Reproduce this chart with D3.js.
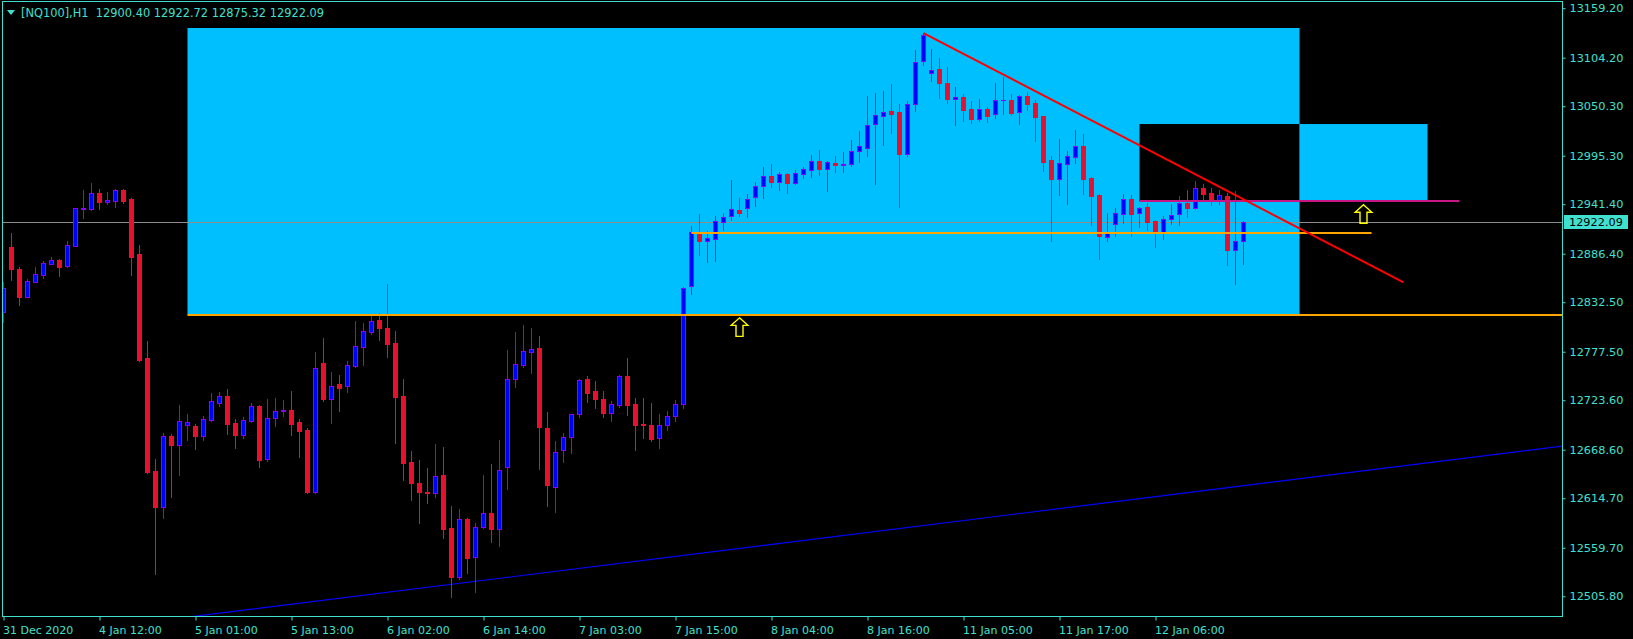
<!DOCTYPE html>
<html><head><meta charset="utf-8">
<script src="https://cdn.jsdelivr.net/npm/d3@7"></script>
<style>body{margin:0;background:#000;overflow:hidden}svg{display:block}</style>
</head><body>
<svg id="chart" width="1633" height="639"></svg>
<script>
// ---- data (H1 bars, index 0 = first visible bar) ----
const opens=[12822.0,12893.5,12869.0,12838.6,12855.3,12863.1,12875.3,12879.4,12872.7,12895.3,
12936.6,12935.7,12953.5,12944.2,12944.6,12957.2,12947.2,12885.7,12770.1,12644.9,
12604.5,12683.8,12674.2,12696.4,12695.3,12684.2,12702.0,12720.9,12727.9,12697.9,
12685.3,12700.2,12717.2,12658.7,12703.5,12711.6,12712.4,12699.0,12690.2,12621.3,
12764.6,12724.6,12741.3,12739.0,12762.0,12783.1,12799.8,12812.4,12803.5,12787.2,
12728.3,12654.6,12631.3,12621.6,12620.2,12640.2,12581.3,12527.6,12591.3,12549.1,
12582.4,12598.0,12580.2,12649.0,12746.8,12763.1,12777.6,12781.3,12692.8,12626.8,
12667.9,12682.4,12707.9,12746.8,12733.5,12724.6,12709.1,12717.9,12750.2,12719.1,
12696.8,12695.7,12681.3,12695.7,12706.0,12719.3,12850.8,12908.6,12900.9,12903.1,
12922.0,12927.9,12934.9,12936.8,12949.0,12961.2,12972.7,12966.4,12974.9,12965.3,
12975.3,12979.8,12989.0,12980.1,12987.2,12984.9,12985.7,13000.9,13004.2,13030.1,
13039.7,13044.9,13043.8,12997.5,13052.4,13100.9,13087.6,13091.3,13075.8,13058.0,
13060.2,13046.9,13036.5,13046.9,13041.3,13056.7,13056.9,13043.5,13061.7,13053.9,
13039.5,12990.2,12969.1,12986.5,12994.3,13006.1,12970.9,12951.7,12905.3,12919.1,
12930.2,12946.8,12931.3,12937.9,12922.8,12910.5,12924.6,12930.2,12943.1,12937.6,
12959.1,12953.5,12946.1,12950.5,12890.9,12900.40];
const highs=[12855.3,12909.0,12871.2,12857.9,12871.2,12877.9,12882.7,12880.5,12900.5,12937.2,
12957.2,12965.0,12958.3,12955.0,12957.9,12957.9,12947.9,12896.1,12789.4,12658.3,
12686.8,12686.0,12718.3,12708.3,12697.1,12706.1,12731.6,12732.8,12736.1,12702.4,
12705.0,12720.5,12718.7,12725.0,12726.5,12723.9,12733.9,12702.4,12692.4,12776.8,
12792.8,12754.6,12751.3,12767.2,12811.6,12809.4,12818.3,12820.2,12852.7,12800.5,
12746.8,12666.8,12657.2,12648.0,12675.0,12671.3,12606.1,12602.8,12592.8,12586.8,
12640.5,12652.8,12679.4,12779.4,12799.4,12807.2,12803.9,12795.0,12710.5,12678.3,
12686.8,12708.3,12747.6,12750.5,12745.0,12733.5,12722.4,12751.6,12770.5,12725.7,
12726.1,12720.5,12708.3,12712.0,12724.0,12849.7,12917.1,12930.5,12911.6,12928.3,
12931.6,12968.3,12948.3,12952.7,12965.7,12982.7,12986.0,12977.2,12976.0,12979.4,
12982.3,12996.1,13001.6,12989.4,12994.9,12999.4,13012.7,13022.7,13061.6,13064.9,
13067.2,13074.9,13052.7,13056.0,13112.8,13131.5,13113.9,13103.5,13093.5,13071.7,
13063.9,13056.1,13058.3,13049.1,13076.1,13082.8,13063.9,13062.4,13065.7,13056.9,
13039.5,12994.6,13013.9,13000.6,13024.3,13019.5,12972.0,12952.8,12931.3,12937.2,
12952.8,12951.3,12937.9,12942.8,12923.9,12928.3,12941.7,12950.5,12957.2,12967.2,
12963.9,12959.1,12957.2,12953.5,12956.1,12922.72];
const lows=[12810.9,12857.2,12829.4,12838.2,12854.9,12859.7,12875.0,12861.6,12872.0,12894.9,
12926.4,12935.3,12936.4,12942.0,12938.6,12943.1,12862.7,12767.5,12643.1,12530.5,
12593.1,12616.4,12640.9,12679.4,12669.4,12679.4,12700.5,12717.2,12686.1,12670.9,
12682.0,12699.8,12649.8,12656.1,12695.3,12706.4,12685.3,12660.9,12620.9,12620.2,
12722.4,12698.7,12712.0,12733.1,12760.9,12763.1,12796.8,12790.5,12771.6,12676.1,
12635.0,12612.8,12586.8,12609.8,12615.7,12570.9,12505.0,12525.3,12532.0,12510.9,
12582.0,12566.5,12562.0,12625.3,12738.7,12760.9,12754.2,12647.2,12606.5,12599.8,
12655.3,12665.4,12705.3,12722.0,12715.4,12705.3,12700.9,12716.5,12707.2,12668.7,
12681.6,12678.3,12670.9,12690.0,12700.0,12715.0,12842.0,12884.9,12877.5,12878.6,
12913.1,12924.2,12928.6,12927.5,12939.7,12948.6,12960.9,12957.2,12954.2,12964.2,
12970.5,12971.6,12973.8,12956.4,12977.2,12977.5,12984.2,12988.6,12995.3,12964.2,
13007.5,13020.9,12938.6,12995.3,13045.4,13096.1,13078.7,13059.8,13054.3,13029.8,
13034.3,13031.3,13034.3,13033.2,13037.6,13042.1,13040.6,13030.9,13046.5,13012.0,
12978.7,12900.9,12952.0,12941.7,12987.6,12952.8,12918.3,12880.6,12900.9,12906.5,
12920.9,12906.5,12916.5,12912.8,12894.2,12903.1,12919.4,12918.3,12927.2,12936.1,
12946.1,12940.5,12941.7,12873.9,12853.1,12875.32];
const closes=[12847.9,12869.0,12838.6,12855.7,12863.5,12875.7,12879.4,12871.6,12895.7,12936.8,
12937.0,12953.5,12944.2,12945.7,12956.8,12945.3,12883.1,12768.3,12644.2,12605.3,
12683.8,12674.2,12700.1,12699.0,12683.8,12702.4,12722.4,12727.9,12697.6,12685.3,
12701.3,12716.8,12657.6,12703.5,12711.3,12712.4,12697.6,12689.8,12621.6,12759.1,
12724.6,12739.0,12737.6,12762.4,12783.5,12800.2,12811.3,12804.2,12786.5,12727.6,
12653.5,12631.3,12621.3,12620.5,12639.8,12580.9,12527.6,12591.3,12548.7,12582.4,
12598.0,12580.9,12645.7,12746.8,12763.5,12778.0,12780.2,12693.5,12629.8,12665.7,
12682.4,12707.9,12746.1,12732.0,12724.6,12709.1,12719.1,12750.2,12718.7,12696.5,
12695.7,12680.9,12695.7,12706.0,12719.0,12847.9,12910.1,12900.9,12903.5,12922.7,
12926.8,12936.0,12932.0,12947.2,12961.2,12972.7,12966.4,12974.6,12965.3,12975.7,
12980.5,12989.0,12980.9,12988.3,12984.6,12985.7,13000.1,13006.0,13029.4,13040.5,
13043.5,13042.0,12997.5,13052.7,13099.1,13129.0,13090.2,13076.5,13058.0,13060.2,
13046.5,13036.5,13046.9,13039.8,13056.9,13057.1,13043.2,13061.3,13053.2,13038.7,
12988.7,12969.1,12986.9,12995.0,13005.7,12969.8,12950.9,12906.5,12909.1,12931.3,
12946.8,12930.9,12936.8,12922.0,12910.5,12924.6,12929.1,12943.1,12937.6,12959.1,
12953.1,12946.1,12951.3,12890.9,12900.2,12922.09];

const priceTicks=[13159.20,13104.20,13050.30,12995.30,12941.40,12886.40,12832.50,12777.50,12723.60,12668.60,12614.70,12559.70,12505.80];
const timeTickIdx=[0,12,24,36,48,60,72,84,96,108,120,132,144];
const timeTickLabels=["31 Dec 2020","4 Jan 12:00","5 Jan 01:00","5 Jan 13:00","6 Jan 02:00","6 Jan 14:00","7 Jan 03:00","7 Jan 15:00","8 Jan 04:00","8 Jan 16:00","11 Jan 05:00","11 Jan 17:00","12 Jan 06:00"];
const lastPrice=12922.09;
const headerText="[NQ100],H1  12900.40 12922.72 12875.32 12922.09";

// chart objects in (bar index, price)
const bigBox=[23,162,12818.3,13137.2];
const blackBox=[142,162,12944.7,13030.5];
const sideBox=[162,178,12944.7,13030.5];
const supportLine=[23,200,12818.3];
const midLine=[86,171,12909.4];
const magentaLine=[142,182,12944.7];
const downTrend=[[115,13131.5],[175,12854.6]];
const upTrend=[[20,12479.3],[195,12672.9]];
const arrowsUp=[[92,12815.7],[170,12941.3]];

// ---- layout ----
const W=1633,H=639, L=2, R=1562, T=1, B=616;
const FG="#40e0d0", BULL="#0000ff", BULLW="#8b00ff", BEAR="#e8112d";
const svg=d3.select("#chart");
svg.append("rect").attr("width",W).attr("height",H).attr("fill","#000");

const x=d3.scaleLinear().domain([0,194]).range([3.5,1555.5]);
const y=d3.scaleLinear().domain([12505.8,13159.2]).range([596.26,8.2]);

svg.append("defs").append("clipPath").attr("id","plot")
  .append("rect").attr("x",L+1).attr("y",T+1).attr("width",R-L-1).attr("height",B-T-1);
const g=svg.append("g").attr("clip-path","url(#plot)");

function rectP(b,fill){
  g.append("rect").attr("x",x(b[0])).attr("width",x(b[1])-x(b[0]))
   .attr("y",y(b[3])).attr("height",y(b[2])-y(b[3])).attr("fill",fill);
}
rectP(bigBox,"#00bfff");
rectP(blackBox,"#000");
rectP(sideBox,"#00bfff");

// bid line
g.append("line").attr("x1",L).attr("x2",R)
 .attr("y1",Math.round(y(lastPrice))+0.5).attr("y2",Math.round(y(lastPrice))+0.5)
 .attr("stroke","#8c8c8c").attr("stroke-width",1);

// up trend line
g.append("line").attr("x1",x(upTrend[0][0])).attr("y1",y(upTrend[0][1]))
 .attr("x2",x(upTrend[1][0])).attr("y2",y(upTrend[1][1]))
 .attr("stroke","#0000ff").attr("stroke-width",1.2);

// candles
const idx=d3.range(opens.length);
const cg=g.append("g");
idx.forEach(i=>{
  const o=opens[i],c=closes[i],h=highs[i],l=lows[i];
  const bull=c>=o, cx=x(i);
  const col=bull?BULLW:BEAR;
  cg.append("line").attr("x1",cx).attr("x2",cx).attr("y1",Math.round(y(h))).attr("y2",Math.round(y(l))+1)
    .attr("stroke",col).attr("stroke-width",1);
  const top=Math.round(y(Math.max(o,c))), bot=Math.round(y(Math.min(o,c)));
  const hh=Math.max(1,bot-top+1);
  cg.append("rect").attr("x",cx-2.5).attr("y",top).attr("width",5).attr("height",hh).attr("fill",col);
  if(bull && hh>2){
    cg.append("rect").attr("x",cx-1.5).attr("y",top+1).attr("width",3).attr("height",hh-2).attr("fill",BULL);
  }
});

// horizontal lines
function hline(a,color,w){
  const yy=Math.round(y(a[2]));
  g.append("line").attr("x1",x(a[0])).attr("x2",x(a[1])).attr("y1",yy).attr("y2",yy)
   .attr("stroke",color).attr("stroke-width",w);
}
hline(supportLine,"#ffa500",2);
hline(midLine,"#ffa500",2);
hline(magentaLine,"#c71585",2);

// down trend
g.append("line").attr("x1",x(downTrend[0][0])).attr("y1",y(downTrend[0][1]))
 .attr("x2",x(downTrend[1][0])).attr("y2",y(downTrend[1][1]))
 .attr("stroke","#ff0000").attr("stroke-width",2);

// arrows
arrowsUp.forEach(a=>{
  const ax=x(a[0]), ay=y(a[1]);
  const p=d3.path();
  p.moveTo(ax,ay+0.5); p.lineTo(ax+8.3,ay+8); p.lineTo(ax+3.5,ay+8); p.lineTo(ax+3.5,ay+19);
  p.lineTo(ax-3.5,ay+19); p.lineTo(ax-3.5,ay+8); p.lineTo(ax-8.3,ay+8); p.closePath();
  g.append("path").attr("d",p.toString()).attr("fill","none").attr("stroke","#ffff00").attr("stroke-width",1.4)
   .attr("stroke-linejoin","miter");
});

// frame
svg.append("rect").attr("x",L+0.5).attr("y",T+0.5).attr("width",R-L).attr("height",B-T)
  .attr("fill","none").attr("stroke",FG).attr("stroke-width",1);

// right axis
const ya=svg.append("g").attr("transform",`translate(${R+0.5},0)`)
  .call(d3.axisRight(y).tickValues(priceTicks).tickFormat(d3.format(".2f")).tickSize(3).tickPadding(4));
ya.select(".domain").remove();
ya.selectAll("line").attr("stroke",FG);
ya.selectAll("text").attr("fill",FG).attr("font-family","DejaVu Sans").attr("font-size",11.3);

// bottom axis
const xa=svg.append("g").attr("transform",`translate(0,${B+0.5})`)
  .call(d3.axisBottom(x).tickValues(timeTickIdx).tickFormat((d,i)=>timeTickLabels[i]).tickSize(4).tickPadding(6));
xa.select(".domain").remove();
xa.selectAll("line").attr("stroke",FG);
xa.selectAll("text").attr("fill",FG).attr("font-family","DejaVu Sans").attr("font-size",11)
  .attr("text-anchor","start").attr("dx",-1);

// last price label
const ly=y(lastPrice);
svg.append("rect").attr("x",R+2).attr("y",Math.round(ly)-7).attr("width",64).attr("height",14).attr("fill",FG);
svg.append("text").attr("x",R+7).attr("y",ly).attr("dy","0.36em").text(d3.format(".2f")(lastPrice))
  .attr("fill","#000").attr("font-family","DejaVu Sans").attr("font-size",11.3);

// header
svg.append("path").attr("d","M7,10L15,10L11,15Z").attr("fill",FG);
svg.append("text").attr("x",21).attr("y",17).text(headerText).attr("xml:space","preserve")
  .style("white-space","pre").attr("fill",FG).attr("font-family","DejaVu Sans").attr("font-size",11.4);
</script>
</body></html>
